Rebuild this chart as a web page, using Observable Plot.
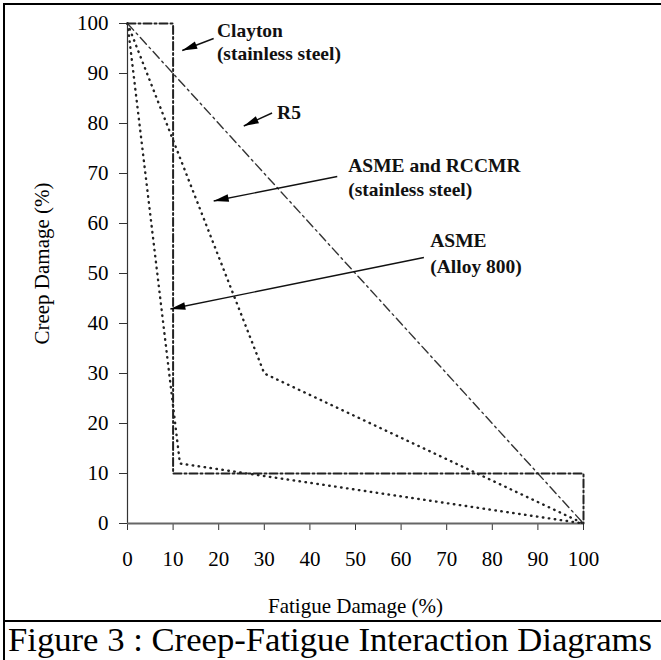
<!DOCTYPE html>
<html>
<head>
<meta charset="utf-8">
<script src="https://cdn.jsdelivr.net/npm/d3@7"></script>
<script src="https://cdn.jsdelivr.net/npm/@observablehq/plot@0.6"></script>
<style>
  html, body { margin: 0; padding: 0; background: #fff; }
  #chart { position: absolute; left: 0; top: 0; }
  #frame { position: absolute; left: 3px; top: 3px; width: 720px; height: 720px;
           border-left: 2px solid #000; border-top: 2px solid #000; pointer-events: none; }
  #divider { position: absolute; left: 3px; top: 620px; width: 720px; height: 2px; background: #000; }
  #caption { position: absolute; left: 8px; top: 622px; font-family: "Liberation Serif", "Times New Roman", serif;
             font-size: 34.5px; line-height: 34.5px; white-space: nowrap; transform-origin: 0 0; color: #000; }
</style>
</head>
<body>
<div id="chart"></div>
<div id="frame"></div>
<div id="divider"></div>
<div id="caption">Figure 3 : Creep-Fatigue Interaction Diagrams</div>
<script>
// ---- data ----
const xTicks = [0, 10, 20, 30, 40, 50, 60, 70, 80, 90, 100];
const yTicks = [0, 10, 20, 30, 40, 50, 60, 70, 80, 90, 100];

// Clayton (stainless steel) bilinear envelope
const claytonFatigue = [0, 10, 10, 100, 100];
const claytonCreep   = [100, 100, 10, 10, 0];
// R5 linear rule
const r5Fatigue = [0, 100];
const r5Creep   = [100, 0];
// ASME and RCCMR (stainless steel)
const asmeSSFatigue = [0, 30, 100];
const asmeSSCreep   = [100, 30, 0];
// ASME (Alloy 800)
const alloyFatigue = [0, 11.5, 100];
const alloyCreep   = [100, 12, 0];

// annotations (data units)
const noteText = ["Clayton", "(stainless steel)", "R5", "ASME and RCCMR", "(stainless steel)", "ASME", "(Alloy 800)"];
const noteX    = [19.6, 19.6, 32.8, 48.4, 48.4, 66.4, 66.4];
const noteY    = [98.6, 94.0, 82.1, 71.6, 66.8, 56.5, 51.3];
const arrowTailX = [18.9, 31.7, 46.0, 65.0];
const arrowTailY = [97.0, 82.1, 69.4, 53.2];
const arrowTipX  = [12.0, 25.5, 18.9, 9.4];
const arrowTipY  = [94.6, 79.5, 64.5, 42.9];

// ---- build tables ----
const toPts = (xs, ys) => xs.map((x, i) => ({x, y: ys[i]}));
const clayton = toPts(claytonFatigue, claytonCreep);
const r5 = toPts(r5Fatigue, r5Creep);
const asmeSS = toPts(asmeSSFatigue, asmeSSCreep);
const alloy = toPts(alloyFatigue, alloyCreep);
const notes = noteText.map((t, i) => ({t, x: noteX[i], y: noteY[i]}));
const arrows = arrowTailX.map((x1, i) => ({x1, y1: arrowTailY[i], x2: arrowTipX[i], y2: arrowTipY[i]}));

const W = 661, H = 620, mL = 127, mR = 78, mT = 23, mB = 97;
const sx = (W - mL - mR) / 100, sy = (H - mT - mB) / 100;
const headSymbol = {
  draw(ctx) {
    ctx.moveTo(0, 0);
    ctx.lineTo(-3.8, 15);
    ctx.lineTo(3.8, 15);
    ctx.closePath();
  }
};
const angle = d => Math.atan2((d.x2 - d.x1) * sx, (d.y2 - d.y1) * sy) * 180 / Math.PI;

const dotted = {stroke: "#222", strokeWidth: 2.4, strokeDasharray: "0.5,5.5", strokeLinecap: "round"};

const chart = Plot.plot({
  width: W, height: H,
  marginLeft: mL, marginRight: mR, marginTop: mT, marginBottom: mB,
  x: {domain: [0, 100], label: null},
  y: {domain: [0, 100], label: null},
  style: {fontFamily: "Liberation Serif, Times New Roman, serif", fontSize: "21px", color: "#000", background: "transparent"},
  marks: [
    Plot.axisX(xTicks, {tickSize: 7, tickPadding: 21, fontSize: 21, label: null, stroke: "#333"}),
    Plot.axisY(yTicks, {tickSize: 8, tickPadding: 11, fontSize: 21, label: null, stroke: "#333"}),
    Plot.ruleX([0], {stroke: "#333", strokeWidth: 1.2}),
    Plot.ruleY([0], {stroke: "#666", strokeWidth: 2}),
    Plot.line(alloy, {x: "x", y: "y", ...dotted}),
    Plot.line(asmeSS, {x: "x", y: "y", ...dotted}),
    Plot.line(r5, {x: "x", y: "y", stroke: "#333", strokeWidth: 1.4, strokeDasharray: "9,4,2,4"}),
    Plot.line(clayton, {x: "x", y: "y", stroke: "#222", strokeWidth: 2, strokeDasharray: "8,3,2,3"}),
    Plot.link(arrows, {x1: "x1", y1: "y1", x2: "x2", y2: "y2", stroke: "#111", strokeWidth: 1.4}),
    Plot.dot(arrows, {x: "x2", y: "y2", symbol: headSymbol, rotate: angle, fill: "#000", stroke: "none", r: 5}),
    Plot.text(notes, {x: "x", y: "y", text: "t", textAnchor: "start", lineAnchor: "middle",
                      fontWeight: "bold", fontSize: 19.5, fill: "#111"}),
    Plot.text(["Fatigue Damage (%)"], {frameAnchor: "bottom", dy: 83, fontSize: 21, textAnchor: "middle", lineAnchor: "middle"}),
    Plot.text(["Creep Damage (%)"], {frameAnchor: "left", dx: -85, dy: -10, rotate: -90, fontSize: 21,
                                    textAnchor: "middle", lineAnchor: "middle"})
  ]
});
document.getElementById("chart").appendChild(chart);

// fit caption to the reference's width
const cap = document.getElementById("caption");
const w = cap.getBoundingClientRect().width;
cap.style.transform = `scaleX(${644 / w})`;
</script>
</body>
</html>
